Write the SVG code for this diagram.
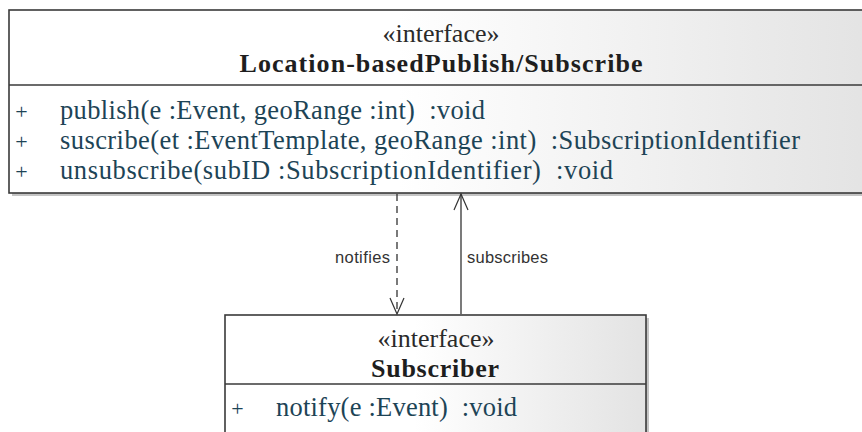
<svg xmlns="http://www.w3.org/2000/svg" width="862" height="432" viewBox="0 0 862 432">
  <defs>
    <linearGradient id="boxFill" x1="0" y1="0" x2="1" y2="0">
      <stop offset="0" stop-color="#ffffff"/>
      <stop offset="0.45" stop-color="#ffffff"/>
      <stop offset="1" stop-color="#e3e3e3"/>
    </linearGradient>
    <marker id="openArrow" markerUnits="userSpaceOnUse" viewBox="-18 -9 20 18" refX="0" refY="0" markerWidth="20" markerHeight="18" orient="auto">
      <path d="M-16,-7 L0,0 L-16,7" fill="none" stroke="#333" stroke-width="1.2"/>
    </marker>
    <style>
      .shadow { fill: #c4c4c4; }
      .box { fill: url(#boxFill); stroke: #3a3a3a; stroke-width: 1.6; }
      .sep { stroke: #3a3a3a; stroke-width: 1.4; }
      .stereo { font-family: "Liberation Serif", "Times New Roman", serif; font-size: 26px; fill: #2a2a2a; text-anchor: middle; }
      .name { font-family: "Liberation Serif", "Times New Roman", serif; font-size: 26px; font-weight: bold; fill: #1e1e1e; text-anchor: middle; }
      .op { font-family: "Liberation Serif", "Times New Roman", serif; font-size: 26.5px; fill: #1d4456; white-space: pre; }
      .vis { font-family: "Liberation Serif", "Times New Roman", serif; font-size: 22px; fill: #1d4456; text-anchor: middle; }
      .edge { fill: none; stroke: #333; stroke-width: 1.3; }
      .dashed { stroke-dasharray: 7 5; }
      .label { font-family: "Liberation Sans", Arial, sans-serif; font-size: 16.5px; fill: #333; }
    </style>
  </defs>

  <!-- Location-based publish/subscribe interface -->
  <g id="node-publish-subscribe">
    <rect class="shadow" x="12" y="13" width="866" height="183"/>
    <rect class="box" x="9" y="10" width="866" height="183"/>
    <line class="sep" x1="9" y1="85" x2="875" y2="85"/>
    <text class="stereo" x="441" y="42">«interface»</text>
    <text class="name" x="441" y="72" textLength="403" lengthAdjust="spacing">Location-basedPublish/Subscribe</text>
    <text class="vis" x="21.5" y="119">+</text>
    <text class="op" x="60" y="119" textLength="425" lengthAdjust="spacing">publish(e :Event, geoRange :int)  :void</text>
    <text class="vis" x="21.5" y="149">+</text>
    <text class="op" x="60" y="149" textLength="740" lengthAdjust="spacing">suscribe(et :EventTemplate, geoRange :int)  :SubscriptionIdentifier</text>
    <text class="vis" x="21.5" y="179">+</text>
    <text class="op" x="60" y="179" textLength="553" lengthAdjust="spacing">unsubscribe(subID :SubscriptionIdentifier)  :void</text>
  </g>

  <!-- Subscriber interface -->
  <g id="node-subscriber">
    <rect class="shadow" x="228" y="318" width="421" height="130"/>
    <rect class="box" x="225" y="315" width="421" height="130"/>
    <line class="sep" x1="225" y1="384" x2="646" y2="384"/>
    <text class="stereo" x="436" y="347">«interface»</text>
    <text class="name" x="435" y="377" textLength="128" lengthAdjust="spacing">Subscriber</text>
    <text class="vis" x="237.5" y="416">+</text>
    <text class="op" x="276" y="416" textLength="241" lengthAdjust="spacing">notify(e :Event)  :void</text>
  </g>

  <!-- Dependencies between the two interfaces -->
  <g id="connectors">
    <line class="edge dashed" x1="397" y1="194" x2="397" y2="314" marker-end="url(#openArrow)"/>
    <text class="label" x="335" y="263" textLength="55" lengthAdjust="spacing">notifies</text>
    <line class="edge" x1="461" y1="314" x2="461" y2="194" marker-end="url(#openArrow)"/>
    <text class="label" x="467" y="263" textLength="81" lengthAdjust="spacing">subscribes</text>
  </g>
</svg>
